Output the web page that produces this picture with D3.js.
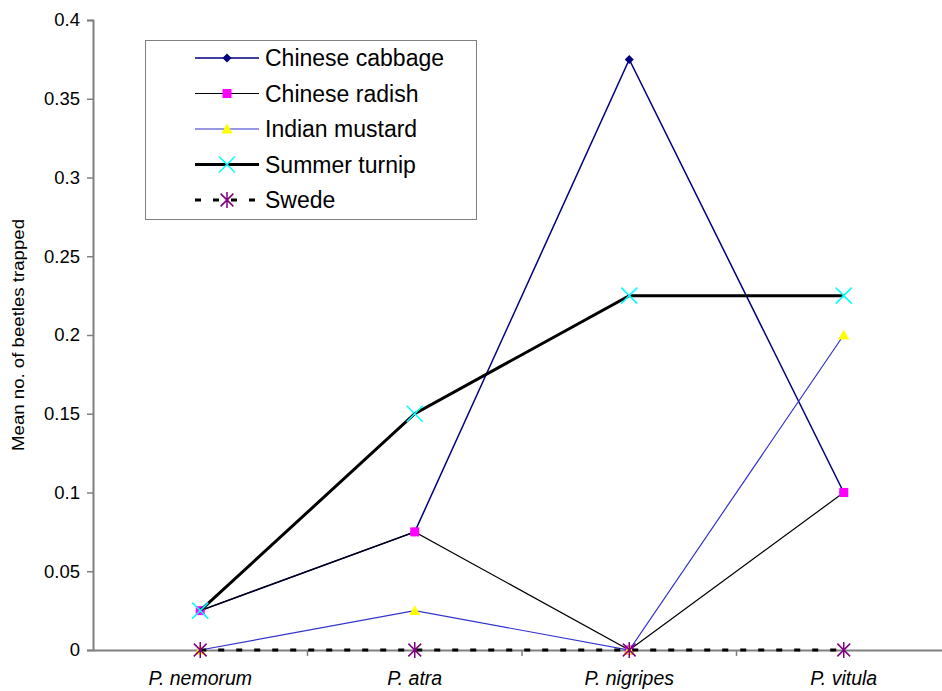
<!DOCTYPE html>
<html>
<head>
<meta charset="utf-8">
<script src="https://cdn.jsdelivr.net/npm/d3@7"></script>
<style>
  body { margin: 0; background: #fff; }
  text { font-family: Arial, "Liberation Sans", sans-serif; }
</style>
</head>
<body>
<script>
// Chart data
const species = ['P. nemorum', 'P. atra', 'P. nigripes', 'P. vitula'];
const seriesNames = ['Chinese cabbage', 'Chinese radish', 'Indian mustard', 'Summer turnip', 'Swede'];
const chineseCabbage = [0.025, 0.075, 0.375, 0.1];
const chineseRadish = [0.025, 0.075, 0, 0.1];
const indianMustard = [0, 0.025, 0, 0.2];
const summerTurnip = [0.025, 0.15, 0.225, 0.225];
const swede = [0, 0, 0, 0];
const yTicks = [0, 0.05, 0.1, 0.15, 0.2, 0.25, 0.3, 0.35, 0.4];

const values = [chineseCabbage, chineseRadish, indianMustard, summerTurnip, swede];

// Styles per series
const styles = [
  { line: '#000080', width: 1.5, dash: null, marker: 'diamond', fill: '#000080', stroke: 'none', size: 9 },
  { line: '#000000', width: 1.2, dash: null, marker: 'square', fill: '#ff00ff', stroke: 'none', size: 9 },
  { line: '#3333cc', width: 1.2, dash: null, marker: 'triangle', fill: '#ffff00', stroke: 'none', size: 11 },
  { line: '#000000', width: 3, dash: null, marker: 'x', fill: 'none', stroke: '#00ffff', size: 16 },
  { line: '#000000', width: 3, dash: '6,12', marker: 'star', fill: 'none', stroke: '#800080', size: 16 }
];

const fullWidth = 942;
const fullHeight = 691;
const margin = { top: 20, left: 93, bottom: 41 };

const svg = d3.select('body')
  .append('svg')
  .attr('width', fullWidth)
  .attr('height', fullHeight);

const x = d3.scaleBand()
  .domain(species)
  .range([margin.left, margin.left + 4 * 214.5]);

const y = d3.scaleLinear()
  .domain([0, 0.4])
  .range([fullHeight - margin.bottom, margin.top]);

const cx = d => x(d) + x.bandwidth() / 2;

// Y axis
const yAxis = svg.append('g')
  .attr('transform', `translate(${margin.left},0)`)
  .call(d3.axisLeft(y).tickValues(yTicks).tickSize(6).tickPadding(7).tickFormat(d => d3.format('')(+d.toFixed(2))));
yAxis.select('.domain').attr('stroke', '#808080').attr('stroke-width', 2);
yAxis.selectAll('.tick line').attr('stroke', '#808080').attr('stroke-width', 1.5);
yAxis.selectAll('.tick text').style('font-size', '18.5px').attr('fill', '#000');

// X axis
const xAxis = svg.append('g')
  .attr('transform', `translate(0,${y(0)})`)
  .call(d3.axisBottom(x).tickSize(0).tickPadding(21));
xAxis.select('.domain').attr('stroke', '#808080').attr('stroke-width', 2);
xAxis.selectAll('.tick text')
  .style('font-size', '19.5px')
  .style('font-style', 'italic')
  .attr('fill', '#000');

// category boundary ticks
svg.append('g')
  .selectAll('line')
  .data(species.slice(1))
  .enter()
  .append('line')
  .attr('x1', d => x(d))
  .attr('x2', d => x(d))
  .attr('y1', y(0))
  .attr('y2', y(0) + 6)
  .attr('stroke', '#808080')
  .attr('stroke-width', 1.5);

// Y label
svg.append('text')
  .attr('transform', `translate(24, ${y(0.2)}) rotate(-90)`)
  .attr('text-anchor', 'middle')
  .attr('textLength', 232)
  .attr('lengthAdjust', 'spacingAndGlyphs')
  .style('font-size', '16px')
  .text('Mean no. of beetles trapped');

function drawMarker(g, st) {
  const s = st.size / 2;
  if (st.marker === 'diamond') {
    g.append('path').attr('d', `M0,${-s}L${s},0L0,${s}L${-s},0Z`).attr('fill', st.fill);
  } else if (st.marker === 'square') {
    g.append('rect').attr('x', -s).attr('y', -s).attr('width', st.size).attr('height', st.size).attr('fill', st.fill);
  } else if (st.marker === 'triangle') {
    g.append('path').attr('d', `M0,${-s}L${s},${s * 0.8}L${-s},${s * 0.8}Z`).attr('fill', st.fill);
  } else if (st.marker === 'x') {
    g.append('path').attr('d', `M${-s},${-s}L${s},${s}M${-s},${s}L${s},${-s}`)
      .attr('stroke', st.stroke).attr('stroke-width', 1.5);
  } else if (st.marker === 'star') {
    g.append('path').attr('d', `M${-s * 0.8},${-s * 0.8}L${s * 0.8},${s * 0.8}M${-s * 0.8},${s * 0.8}L${s * 0.8},${-s * 0.8}M0,${-s}L0,${s}`)
      .attr('stroke', st.stroke).attr('stroke-width', 1.5);
  }
}

const line = d3.line()
  .x((d, i) => cx(species[i]))
  .y(d => y(d));

values.forEach((vals, k) => {
  const st = styles[k];
  svg.append('path')
    .datum(vals)
    .attr('d', line)
    .attr('fill', 'none')
    .attr('stroke', st.line)
    .attr('stroke-width', st.width)
    .attr('stroke-dasharray', st.dash);
  vals.forEach((v, i) => {
    const g = svg.append('g').attr('transform', `translate(${cx(species[i])},${y(v)})`);
    drawMarker(g, st);
  });
});

// Legend
const leg = svg.append('g');
leg.append('rect')
  .attr('x', 145.5)
  .attr('y', 40.5)
  .attr('width', 331)
  .attr('height', 179)
  .attr('fill', '#fff')
  .attr('stroke', '#808080')
  .attr('stroke-width', 1);

seriesNames.forEach((name, k) => {
  const st = styles[k];
  const ly = 58 + k * 35.5;
  leg.append('line')
    .attr('x1', 195).attr('x2', 259)
    .attr('y1', ly).attr('y2', ly)
    .attr('stroke', st.line)
    .attr('stroke-width', st.width)
    .attr('stroke-dasharray', st.dash);
  drawMarker(leg.append('g').attr('transform', `translate(227,${ly})`), st);
  leg.append('text')
    .attr('x', 265)
    .attr('y', ly + 8)
    .style('font-size', '23px')
    .text(name);
});
</script>
</body>
</html>
